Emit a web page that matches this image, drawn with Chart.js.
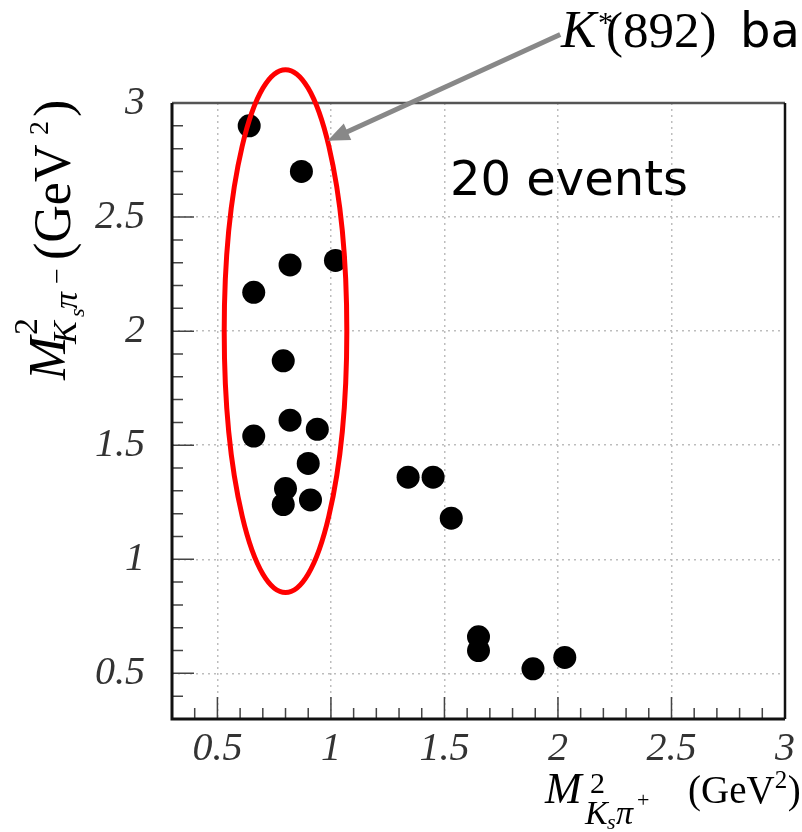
<!DOCTYPE html>
<html>
<head>
<meta charset="utf-8">
<script src="https://cdn.jsdelivr.net/npm/chart.js"></script>
<style>
    body { margin: 0; background: #fff; }
    #dalitz { display: block; }
</style>
</head>
<body>
<canvas id="dalitz" width="802" height="832"></canvas>
<script>
// Event positions on the Dalitz plot, GeV^2
const mKsPiPlus  = [0.64, 0.87, 0.82, 1.02, 0.66, 0.79, 0.82, 0.94, 0.66, 0.90,
                    0.80, 0.79, 0.91, 1.34, 1.45, 1.53, 1.65, 1.65, 1.89, 2.03];
const mKsPiMinus = [2.90, 2.70, 2.29, 2.31, 2.17, 1.87, 1.61, 1.57, 1.54, 1.42,
                    1.31, 1.24, 1.26, 1.36, 1.36, 1.18, 0.66, 0.60, 0.52, 0.57];

const majorTicks = [0.5, 1, 1.5, 2, 2.5, 3];
const tickLabels = ['0.5', '1', '1.5', '2', '2.5', '3'];

// K*(892) band outline and the arrow pointing at it (GeV^2)
const bandCenter = [0.8, 2.0];
const bandRadius = [0.27, 1.146];
const arrowFrom = [2.01, 3.30];
const arrowTo = [0.985, 2.834];

const points = mKsPiPlus.map((x, i) => ({ x: x, y: mKsPiMinus[i] }));

function isMajor(v) {
    return majorTicks.some(m => Math.abs(m - v) < 1e-6);
}

function tickText(v) {
    const i = majorTicks.findIndex(m => Math.abs(m - v) < 1e-6);
    return i >= 0 ? tickLabels[i] : '';
}

const serif = "'Liberation Serif', 'Times New Roman', serif";
const sans = "'DejaVu Sans', Verdana, sans-serif";

function put(ctx, text, x, y, font) {
    ctx.font = font;
    ctx.fillText(text, x, y);
}

const decorations = {
    id: 'decorations',
    afterDraw: (chart) => {
        const { ctx, chartArea: a, scales } = chart;
        const xs = scales.x, ys = scales.y;
        ctx.save();

        // inward tick marks
        ctx.strokeStyle = '#444';
        ctx.lineWidth = 1.5;
        ctx.beginPath();
        xs.ticks.forEach(t => {
            const px = xs.getPixelForValue(t.value);
            const len = isMajor(t.value) ? 22 : 11;
            ctx.moveTo(px, a.bottom);
            ctx.lineTo(px, a.bottom - len);
        });
        ys.ticks.forEach(t => {
            const py = ys.getPixelForValue(t.value);
            const len = isMajor(t.value) ? 22 : 11;
            ctx.moveTo(a.left, py);
            ctx.lineTo(a.left + len, py);
        });
        ctx.stroke();

        // frame
        ctx.lineWidth = 2.5;
        ctx.strokeStyle = '#555';
        ctx.beginPath();
        ctx.moveTo(a.left, a.top);
        ctx.lineTo(a.right, a.top);
        ctx.stroke();
        ctx.strokeStyle = '#111';
        ctx.beginPath();
        ctx.moveTo(a.right, a.top);
        ctx.lineTo(a.right, a.bottom);
        ctx.stroke();
        ctx.lineWidth = 3;
        ctx.beginPath();
        ctx.moveTo(a.left, a.top);
        ctx.lineTo(a.left, a.bottom);
        ctx.lineTo(a.right, a.bottom);
        ctx.stroke();

        // K*(892) band
        const cx = xs.getPixelForValue(bandCenter[0]);
        const cy = ys.getPixelForValue(bandCenter[1]);
        const rx = Math.abs(xs.getPixelForValue(bandCenter[0] + bandRadius[0]) - cx);
        const ry = Math.abs(ys.getPixelForValue(bandCenter[1] + bandRadius[1]) - cy);
        ctx.strokeStyle = '#ff0000';
        ctx.lineWidth = 5;
        ctx.beginPath();
        ctx.ellipse(cx, cy, rx, ry, 0, 0, Math.PI * 2);
        ctx.stroke();

        // arrow
        const x0 = xs.getPixelForValue(arrowFrom[0]), y0 = ys.getPixelForValue(arrowFrom[1]);
        const x1 = xs.getPixelForValue(arrowTo[0]), y1 = ys.getPixelForValue(arrowTo[1]);
        const ang = Math.atan2(y1 - y0, x1 - x0);
        const headLen = 22, headHalf = 9;
        const bx = x1 - headLen * Math.cos(ang), by = y1 - headLen * Math.sin(ang);
        ctx.strokeStyle = '#888';
        ctx.fillStyle = '#888';
        ctx.lineWidth = 5;
        ctx.beginPath();
        ctx.moveTo(x0, y0);
        ctx.lineTo(bx + 2 * Math.cos(ang), by + 2 * Math.sin(ang));
        ctx.stroke();
        ctx.beginPath();
        ctx.moveTo(x1, y1);
        ctx.lineTo(bx + headHalf * Math.sin(ang), by - headHalf * Math.cos(ang));
        ctx.lineTo(bx - headHalf * Math.sin(ang), by + headHalf * Math.cos(ang));
        ctx.closePath();
        ctx.fill();

        // labels
        ctx.fillStyle = '#000';
        ctx.textAlign = 'left';
        ctx.textBaseline = 'alphabetic';
        put(ctx, 'K', 561, 47, 'italic 53px ' + serif);
        put(ctx, '*', 598, 32, '30px ' + serif);
        put(ctx, '(892)', 606, 47, '51px ' + serif);
        put(ctx, 'ba', 740, 47, '48px ' + sans);
        put(ctx, '20 events', 450, 195, '48px ' + sans);

        // x title: M^2_{Ks pi+} (GeV^2)
        put(ctx, 'M', 545, 803, 'italic 44px ' + serif);
        put(ctx, '2', 590, 793, '30px ' + serif);
        put(ctx, 'K', 585, 824, 'italic 34px ' + serif);
        put(ctx, 's', 607, 829, 'italic 22px ' + serif);
        put(ctx, 'π', 616, 824, 'italic 34px ' + serif);
        put(ctx, '+', 637, 807, '22px ' + serif);
        ctx.font = '39px ' + serif;
        const gw = ctx.measureText('(GeV').width;
        put(ctx, '(GeV', 688, 803, '39px ' + serif);
        put(ctx, '2', 688 + gw, 788, '25px ' + serif);
        put(ctx, ')', 688 + gw + 13, 803, '39px ' + serif);

        // y title: M^2_{Ks pi-} (GeV ^2), rotated
        ctx.translate(0, 380);
        ctx.rotate(-Math.PI / 2);
        put(ctx, 'M', 0, 65, 'italic 52px ' + serif);
        put(ctx, '2', 45, 37, '34px ' + serif);
        put(ctx, 'K', 36, 76, 'italic 34px ' + serif);
        put(ctx, 's', 63, 84, 'italic 22px ' + serif);
        put(ctx, 'π', 71, 77, 'italic 34px ' + serif);
        put(ctx, '−', 96, 66, '28px ' + serif);
        put(ctx, '(GeV', 120, 70, '52px ' + serif);
        put(ctx, '2', 245, 48, '28px ' + serif);
        put(ctx, ')', 263, 70, '52px ' + serif);

        ctx.restore();
    }
};

const tickFont = { family: serif, style: 'italic', size: 40 };

const ctx = document.getElementById('dalitz');
const dalitzChart = new Chart(ctx, {
    type: 'scatter',
    data: {
        datasets: [{
            data: points,
            backgroundColor: '#000',
            borderWidth: 0,
            pointRadius: 11.5,
            pointHoverRadius: 11.5,
        }],
    },
    options: {
        responsive: false,
        animation: false,
        devicePixelRatio: 1,
        events: [],
        layout: {
            padding: { top: 103, right: 17, bottom: 0, left: 0 }
        },
        scales: {
            x: {
                type: 'linear',
                min: 0.3,
                max: 3.0,
                afterFit: (s) => { s.height = 113; },
                border: { display: false, dash: [2, 4] },
                grid: {
                    drawTicks: false,
                    lineWidth: 1.5,
                    color: (c) => (c.tick && isMajor(c.tick.value)) ? '#bdbdbd' : 'rgba(0,0,0,0)',
                },
                ticks: {
                    stepSize: 0.1,
                    autoSkip: false,
                    maxRotation: 0,
                    padding: 6,
                    color: '#333',
                    font: tickFont,
                    callback: (v) => tickText(v),
                },
            },
            y: {
                type: 'linear',
                min: 0.3,
                max: 3.0,
                afterFit: (s) => { s.width = 172; },
                border: { display: false, dash: [2, 4] },
                grid: {
                    drawTicks: false,
                    lineWidth: 1.5,
                    color: (c) => (c.tick && isMajor(c.tick.value)) ? '#bdbdbd' : 'rgba(0,0,0,0)',
                },
                ticks: {
                    stepSize: 0.1,
                    autoSkip: false,
                    padding: 27,
                    color: '#333',
                    font: tickFont,
                    callback: (v) => tickText(v),
                },
            },
        },
        plugins: {
            legend: { display: false },
            tooltip: { enabled: false },
        },
    },
    plugins: [decorations],
});
</script>
</body>
</html>
